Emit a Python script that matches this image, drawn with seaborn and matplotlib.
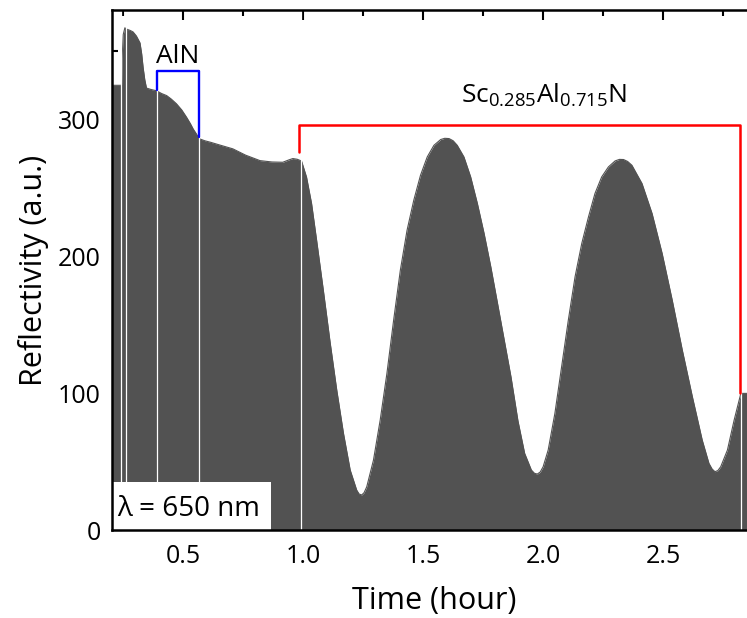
"""
In-situ reflectance trace during AlN / ScAlN growth (lambda = 650 nm)
"""

import numpy as np
import pandas as pd
import matplotlib.pyplot as plt
import seaborn as sns
from matplotlib.patches import Rectangle
from matplotlib.ticker import MultipleLocator

# values
time_h = [0.202, 0.225, 0.243, 0.245, 0.250, 0.257, 0.265, 0.280, 0.291, 0.305,
          0.320, 0.327, 0.333, 0.340, 0.347, 0.365, 0.389, 0.410, 0.431, 0.450,
          0.472, 0.494, 0.514, 0.530, 0.542, 0.555, 0.567, 0.590, 0.612, 0.660,
          0.707, 0.760, 0.820, 0.870, 0.915, 0.940, 0.957, 0.975, 0.989, 0.993,
          1.014, 1.035, 1.056, 1.084, 1.112, 1.140, 1.168, 1.196, 1.223, 1.233,
          1.244, 1.254, 1.265, 1.293, 1.321, 1.349, 1.377, 1.405, 1.433, 1.461,
          1.489, 1.517, 1.545, 1.573, 1.590, 1.608, 1.625, 1.642, 1.670, 1.698,
          1.726, 1.754, 1.782, 1.810, 1.838, 1.866, 1.895, 1.923, 1.951, 1.964,
          1.976, 1.988, 2.000, 2.021, 2.049, 2.077, 2.105, 2.133, 2.161, 2.189,
          2.216, 2.244, 2.272, 2.300, 2.318, 2.335, 2.352, 2.370, 2.412, 2.454,
          2.496, 2.538, 2.580, 2.622, 2.663, 2.691, 2.704, 2.716, 2.728, 2.740,
          2.768, 2.796, 2.824, 2.830, 2.950]
reflectivity = [325, 325, 325, 343, 362, 367, 366, 365, 364, 361,
                356, 348, 338, 329, 323, 322, 321, 319, 317.5, 315,
                311.5, 307, 301.7, 297, 293, 289.5, 286, 284.5, 283.5, 281,
                278.6, 274, 270, 269, 268.8, 270.5, 271.5, 271, 270, 269.8,
                258, 238.7, 211.9, 175.4, 137.7, 102.4, 70.8, 44, 29.4, 26.5,
                25.8, 27.5, 31.8, 51.3, 80.5, 114.6, 153.5, 190, 219.2, 241.1,
                259.3, 272.7, 281.2, 285.4, 286.3, 286.1, 284.5, 281.2, 272.7, 258.1,
                238.7, 216.8, 192.4, 165.7, 138.9, 112.1, 80, 56.2, 44, 41.6,
                41.1, 42.6, 46.4, 58.6, 85.4, 119.4, 153.5, 185.1, 209.5, 228.9,
                246, 258.1, 265.4, 269.8, 270.9, 270.8, 269.4, 266.6, 253.3, 231.4,
                202.2, 168.1, 131.6, 97.5, 65.9, 48.9, 44.8, 42.8, 43.6, 46.4,
                58.6, 80.5, 100, 100, 100]

# white seams between recorded segments
gap_times = [0.240, 0.262, 0.392, 0.567, 0.989, 2.826]

# layer brackets
aln_t = [0.392, 0.392, 0.567, 0.567]
aln_r = [321.4, 335.3, 335.3, 287]
scaln_t = [0.983, 0.983, 2.822, 2.822]
scaln_r = [276.4, 295.8, 295.8, 100]

x_ticks = [0.5, 1.0, 1.5, 2.0, 2.5]
y_ticks = [0, 100, 200, 300]

sns.set_theme(style='ticks')
plt.rcParams['font.family'] = ['Open Sans', 'DejaVu Sans']
plt.rcParams['mathtext.fontset'] = 'custom'
plt.rcParams['mathtext.rm'] = 'Open Sans'
plt.rcParams['mathtext.it'] = 'Open Sans:italic'
plt.rcParams['mathtext.default'] = 'regular'
plt.rcParams['text.color'] = 'black'
plt.rcParams['axes.labelcolor'] = 'black'
plt.rcParams['xtick.color'] = 'black'
plt.rcParams['ytick.color'] = 'black'

df = pd.DataFrame({'Time': time_h, 'Reflectivity': reflectivity})

fig = plt.figure(figsize=(7.47, 6.18), dpi=100)
# right spine sits just past the right edge of the picture
ax = fig.add_axes([0.1495, 0.1419, 0.8638, 0.8419])

fill_color = '#525252'
ax.fill_between(df['Time'], df['Reflectivity'], 0, color=fill_color, lw=0, zorder=1)
sns.lineplot(data=df, x='Time', y='Reflectivity', color=fill_color, lw=0.8,
             estimator=None, sort=False, ax=ax, zorder=1.2)
ax.vlines(gap_times, 0, 380, colors='white', lw=0.9, zorder=1.5)

# brackets
ax.plot(aln_t, aln_r, color='#0000ff', lw=1.7, zorder=4)
ax.plot(scaln_t, scaln_r, color='#ff0000', lw=1.8, zorder=4)
ax.text(0.478, 341, 'AlN', fontsize=19, ha='center', va='baseline')
ax.text(2.003, 312, r'Sc$_{0.285}$Al$_{0.715}$N', fontsize=19, ha='center', va='baseline')

# wavelength box
ax.add_patch(Rectangle((0, 0), 0.2475, 0.093, transform=ax.transAxes,
                       facecolor='white', edgecolor='none', zorder=5))
ax.text(0.009, 0.027, 'λ = 650 nm', transform=ax.transAxes, fontsize=20,
        va='baseline', ha='left', zorder=6)

ax.set_xlim(0.202, 2.891)
ax.set_ylim(0, 380)
ax.set_xticks(x_ticks)
ax.set_yticks(y_ticks)
ax.xaxis.set_minor_locator(MultipleLocator(0.25))
ax.yaxis.set_minor_locator(MultipleLocator(50))
ax.tick_params(which='both', direction='in', top=True, right=True, width=1.5,
               colors='black', labelsize=18)
ax.tick_params(which='major', length=7)
ax.tick_params(which='minor', length=4)
ax.tick_params(axis='x', which='major', pad=10)
ax.tick_params(axis='y', which='major', pad=8)

for sp in ax.spines.values():
    sp.set_linewidth(1.8)
    sp.set_color('black')
    sp.set_zorder(10)

ax.set_xlabel('Time (hour)', fontsize=22, labelpad=12)
ax.set_ylabel('Reflectivity (a.u.)', fontsize=22, labelpad=6)

fig.savefig('out.png', dpi=100)
